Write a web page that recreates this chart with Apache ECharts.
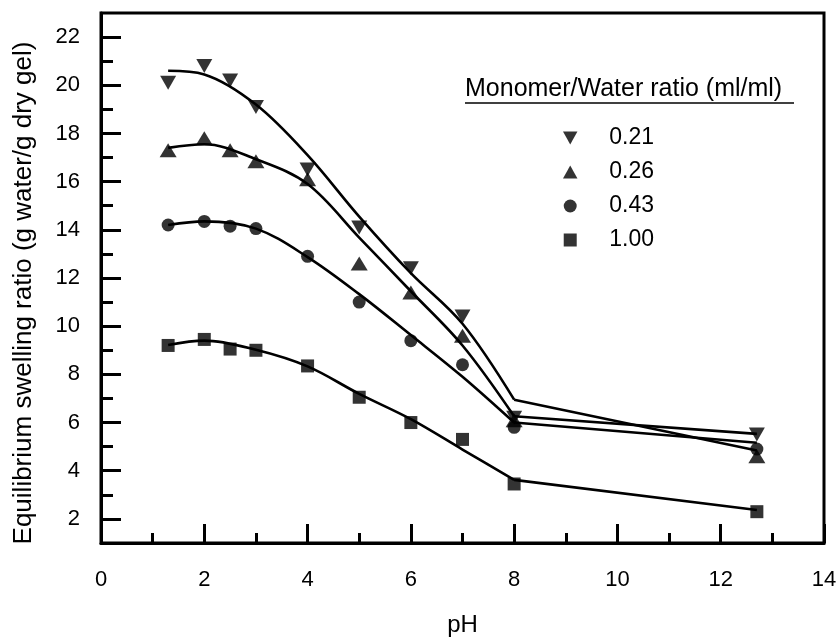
<!DOCTYPE html>
<html><head><meta charset="utf-8">
<script src="https://cdn.jsdelivr.net/npm/echarts@6/dist/echarts.min.js"></script>
<style>html,body{margin:0;padding:0;background:#fff}#c{width:840px;height:642px}</style>
</head><body><div id="c"></div>
<script>
// measured data points
const pH = [1.3, 2, 2.5, 3, 4, 5, 6, 7, 8, 12.7];
const r021 = [20.1, 20.8, 20.2, 19.1, 16.5, 14.1, 12.4, 10.4, 6.2, 5.5];
const r026 = [17.3, 17.8, 17.3, 16.85, 16.1, 12.6, 11.4, 9.6, 6.1, 4.6];
const r043 = [14.2, 14.35, 14.15, 14.05, 12.9, 11.0, 9.4, 8.4, 5.8, 4.9];
const r100 = [9.2, 9.45, 9.05, 9.0, 8.35, 7.05, 6.0, 5.3, 3.45, 2.3];

// fitted curves
const fitPH = [1.3, 2, 3, 4, 5, 6, 7, 8];
const fit021 = [20.6, 20.45, 19.2, 17.1, 14.55, 12.2, 10.1, 6.95];
const fit026 = [17.4, 17.55, 16.93, 15.9, 13.68, 11.45, 9.2, 6.26];
const fit043 = [14.2, 14.35, 14.05, 12.87, 11.33, 9.63, 7.9, 6.0];
const fit100 = [9.22, 9.4, 9.02, 8.33, 7.19, 6.14, 4.88, 3.62];
const tailPH = [8, 12.7];
const tail021 = [6.95, 4.84];
const tail026 = [6.26, 5.53];
const tail043 = [6.0, 5.16];
const tail100 = [3.62, 2.37];

const seriesNames = ['0.21', '0.26', '0.43', '1.00'];
const yLabelTicks = [2, 4, 6, 8, 10, 12, 14, 16, 18, 20, 22];
const yMinorTicks = [3, 5, 7, 9, 11, 13, 15, 17, 19, 21];
const legendTitle = 'Monomer/Water ratio (ml/ml)';
const xName = 'pH';
const yName = 'Equilibrium swelling ratio (g water/g dry gel)';

const FONT = "'Liberation Sans', Arial, sans-serif";
const zip = (xs, ys) => xs.map((x, i) => [x, ys[i]]);
const DOWN = 'path://M0,0L20,0L10,18Z';
const UP = 'path://M10,0L20,18L0,18Z';
const SQ = 'path://M0,0L10,0L10,10L0,10Z';

const pts = [r021, r026, r043, r100];
const fits = [fit021, fit026, fit043, fit100];
const tails = [tail021, tail026, tail043, tail100];
const syms = [DOWN, UP, 'circle', SQ];
const sizes = [[16, 14], [17, 14], 13, 13];

const series = [];
fits.forEach((f, i) => {
  series.push({type: 'line', data: zip(fitPH, f), smooth: 0.35, showSymbol: false, silent: true,
    lineStyle: {color: '#000', width: 2.6}, z: 2});
  series.push({type: 'line', data: zip(tailPH, tails[i]), showSymbol: false, silent: true,
    lineStyle: {color: '#000', width: 2.6}, z: 2});
});
pts.forEach((p, i) => {
  series.push({type: 'scatter', name: seriesNames[i], data: zip(pH, p), symbol: syms[i],
    symbolSize: sizes[i], symbolKeepAspect: false, itemStyle: {color: '#000'}, z: 3});
});

const chart = echarts.init(document.getElementById('c'));
chart.setOption({
  animation: false,
  backgroundColor: '#fff',
  grid: {left: 101, right: 16, top: 13, bottom: 88, show: true, borderColor: '#000', borderWidth: 3},
  xAxis: {
    type: 'value', min: 0, max: 14, interval: 2,
    name: xName, nameLocation: 'middle', nameGap: 70,
    nameTextStyle: {fontFamily: FONT, fontSize: 24, color: '#000'},
    axisLine: {lineStyle: {color: '#000', width: 3}},
    axisTick: {inside: true, length: 19, lineStyle: {color: '#000', width: 3}},
    minorTick: {show: true, splitNumber: 2, length: 10, lineStyle: {color: '#000', width: 3}},
    axisLabel: {fontFamily: FONT, fontSize: 22, color: '#000', margin: 26},
    splitLine: {show: false}
  },
  yAxis: [{
    type: 'value', min: 1, max: 23,
    name: yName, nameLocation: 'middle', nameGap: 64,
    nameTextStyle: {fontFamily: FONT, fontSize: 26, color: '#000', padding: [0, 30, 0, 0]},
    axisLine: {lineStyle: {color: '#000', width: 3}},
    axisTick: {inside: true, length: 20, customValues: yLabelTicks, lineStyle: {color: '#000', width: 3}},
    axisLabel: {fontFamily: FONT, fontSize: 22, color: '#000', margin: 21, customValues: yLabelTicks},
    splitLine: {show: false}
  }, {
    type: 'value', min: 1, max: 23, position: 'left', offset: 0,
    axisLine: {show: false},
    axisTick: {inside: true, length: 12, customValues: yMinorTicks, lineStyle: {color: '#000', width: 3}},
    axisLabel: {show: false},
    splitLine: {show: false}
  }],
  legend: {
    data: [
      {name: seriesNames[0], icon: DOWN},
      {name: seriesNames[1], icon: UP},
      {name: seriesNames[2], icon: 'circle'},
      {name: seriesNames[3], icon: SQ}
    ],
    orient: 'vertical', left: 558, top: 121, itemGap: 10,
    itemWidth: 68, itemHeight: 13, selectedMode: false, symbolKeepAspect: true,
    textStyle: {fontFamily: FONT, fontSize: 23, color: '#000', lineHeight: 24}
  },
  graphic: [
    {type: 'text', left: 465, top: 77, style: {text: legendTitle, font: "25px 'Liberation Sans', Arial, sans-serif", fill: '#000'}},
    {type: 'line', shape: {x1: 465, y1: 103, x2: 794, y2: 103}, style: {stroke: '#000', lineWidth: 1.6}}
  ],
  series: series
});
</script>
</body></html>
